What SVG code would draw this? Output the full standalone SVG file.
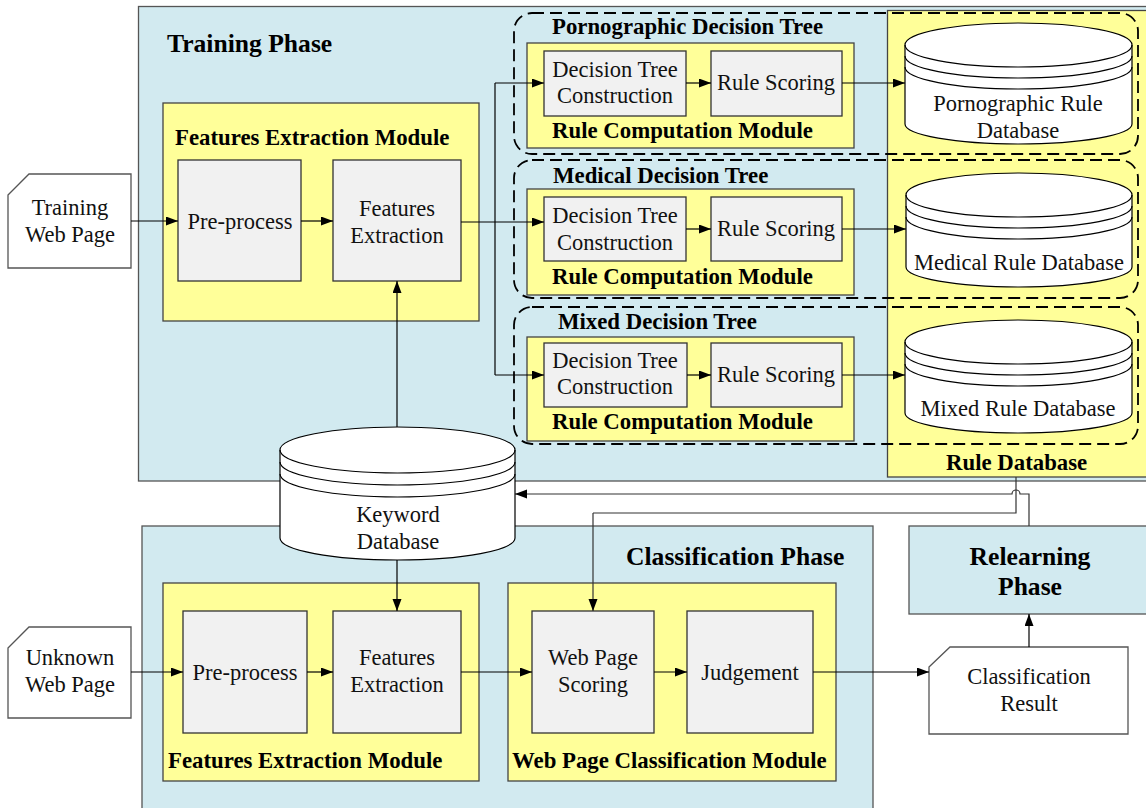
<svg xmlns="http://www.w3.org/2000/svg" width="1146" height="808" viewBox="0 0 1146 808">
<defs>
<marker id="ah" markerUnits="userSpaceOnUse" markerWidth="13" markerHeight="10" refX="12" refY="4.5" orient="auto"><path d="M0,0 L12,4.5 L0,9 z" fill="#000"/></marker>
<style>
.phase{fill:#D2EAF0;stroke:#555;stroke-width:1.3}
.mod{fill:#FFFF99;stroke:#444;stroke-width:1.3}
.box{fill:#F1F1F1;stroke:#333;stroke-width:1.3}
.card{fill:#fff;stroke:#555;stroke-width:1.3}
.dash{fill:none;stroke:#000;stroke-width:1.8;stroke-dasharray:12,6}
.db{fill:#fff;stroke:#000;stroke-width:1.2}
.ln{fill:none;stroke:#000;stroke-width:1.2}
.lnh{fill:none;stroke:#000;stroke-width:1.2;marker-end:url(#ah)}
.t{font-family:"Liberation Serif","Times New Roman",serif;font-size:22.5px;fill:#111;text-anchor:middle}
.b{font-family:"Liberation Serif","Times New Roman",serif;font-size:22.8px;font-weight:bold;fill:#000}
.p{font-family:"Liberation Serif","Times New Roman",serif;font-size:25.6px;font-weight:bold;fill:#000}
</style>
</defs>
<rect width="1146" height="808" fill="#fff"/>

<g id="training-phase">
<rect class="phase" x="138.5" y="6.5" width="1020" height="474.5"/>
<text class="p" x="167" y="52">Training Phase</text>
</g>

<g id="rule-database">
<rect class="mod" x="887.5" y="10.5" width="270" height="466.5"/>
<text class="b" x="946" y="470">Rule Database</text>
</g>

<g id="classification-phase">
<rect class="phase" x="142" y="526" width="731" height="300"/>
<text class="p" x="626" y="565">Classification Phase</text>
</g>

<g id="relearning-phase">
<rect class="phase" x="909" y="526" width="250" height="88"/>
<text class="p" x="1030" y="565" text-anchor="middle">Relearning</text>
<text class="p" x="1030" y="595" text-anchor="middle">Phase</text>
</g>

<g id="training-web-page">
<path class="card" d="M8,195 L29,174 L131,174 L131,268 L8,268 Z"/>
<text class="t" x="70" y="215">Training</text>
<text class="t" x="70" y="242">Web Page</text>
</g>

<g id="train-fem">
<rect class="mod" x="163" y="103" width="316" height="218"/>
<text class="b" x="175" y="145">Features Extraction Module</text>
</g>
<g id="train-preprocess">
<rect class="box" x="178" y="160" width="123" height="121"/>
<text class="t" x="240" y="229">Pre-process</text>
</g>
<g id="train-features">
<rect class="box" x="333" y="160" width="128" height="121"/>
<text class="t" x="397" y="216">Features</text>
<text class="t" x="397" y="243">Extraction</text>
</g>

<g id="porn-tree">
<rect class="dash" x="514" y="13" width="624" height="141" rx="18"/>
<text class="b" x="552" y="34">Pornographic Decision Tree</text>
<rect class="mod" x="527" y="43" width="327" height="105"/>
<text class="b" x="552" y="138">Rule Computation Module</text>
</g>
<g id="porn-dtc">
<rect class="box" x="544" y="51" width="142" height="65"/>
<text class="t" x="615" y="77">Decision Tree</text>
<text class="t" x="615" y="103">Construction</text>
</g>
<g id="porn-rs">
<rect class="box" x="711" y="51" width="131" height="65"/>
<text class="t" x="776" y="90">Rule Scoring</text>
</g>
<g id="porn-db">
<path class="db" d="M905,45 A113.5,22 0 0 1 1132,45 L1132,124 A113.5,20 0 0 1 905,124 Z"/>
<path class="ln" d="M905,45 A113.5,22 0 0 0 1132,45 M905,56 A113.5,22 0 0 0 1132,56 M905,67 A113.5,22 0 0 0 1132,67"/>
<text class="t" x="1018" y="111">Pornographic Rule</text>
<text class="t" x="1018" y="138">Database</text>
</g>

<g id="medical-tree">
<rect class="dash" x="514" y="160" width="624" height="138" rx="18"/>
<text class="b" x="553" y="183">Medical Decision Tree</text>
<rect class="mod" x="527" y="189" width="327" height="106"/>
<text class="b" x="552" y="284">Rule Computation Module</text>
</g>
<g id="medical-dtc">
<rect class="box" x="544" y="197" width="142" height="64"/>
<text class="t" x="615" y="223">Decision Tree</text>
<text class="t" x="615" y="250">Construction</text>
</g>
<g id="medical-rs">
<rect class="box" x="711" y="197" width="131" height="64"/>
<text class="t" x="776" y="236">Rule Scoring</text>
</g>
<g id="medical-db">
<path class="db" d="M906,195 A113,22 0 0 1 1132,195 L1132,267 A113,20 0 0 1 906,267 Z"/>
<path class="ln" d="M906,195 A113,22 0 0 0 1132,195 M906,206 A113,22 0 0 0 1132,206 M906,217 A113,22 0 0 0 1132,217"/>
<text class="t" x="1019" y="270">Medical Rule Database</text>
</g>

<g id="mixed-tree">
<rect class="dash" x="514" y="307" width="624" height="137" rx="18"/>
<text class="b" x="558" y="329">Mixed Decision Tree</text>
<rect class="mod" x="527" y="337" width="327" height="104"/>
<text class="b" x="552" y="429">Rule Computation Module</text>
</g>
<g id="mixed-dtc">
<rect class="box" x="544" y="343" width="143" height="64"/>
<text class="t" x="615" y="368">Decision Tree</text>
<text class="t" x="615" y="394">Construction</text>
</g>
<g id="mixed-rs">
<rect class="box" x="711" y="343" width="131" height="64"/>
<text class="t" x="776" y="382">Rule Scoring</text>
</g>
<g id="mixed-db">
<path class="db" d="M905,342 A113.5,22 0 0 1 1132,342 L1132,413 A113.5,20 0 0 1 905,413 Z"/>
<path class="ln" d="M905,342 A113.5,22 0 0 0 1132,342 M905,353 A113.5,22 0 0 0 1132,353 M905,364 A113.5,22 0 0 0 1132,364"/>
<text class="t" x="1018" y="416">Mixed Rule Database</text>
</g>

<g id="unknown-web-page">
<path class="card" d="M8,648 L29,627 L131,627 L131,718 L8,718 Z"/>
<text class="t" x="70" y="665">Unknown</text>
<text class="t" x="70" y="692">Web Page</text>
</g>

<g id="class-fem">
<rect class="mod" x="163" y="583" width="316" height="198"/>
<text class="b" x="168" y="768">Features Extraction Module</text>
</g>
<g id="class-preprocess">
<rect class="box" x="183" y="611" width="124" height="122"/>
<text class="t" x="245" y="680">Pre-process</text>
</g>
<g id="class-features">
<rect class="box" x="333" y="611" width="128" height="122"/>
<text class="t" x="397" y="665">Features</text>
<text class="t" x="397" y="692">Extraction</text>
</g>

<g id="wpcm">
<rect class="mod" x="508" y="583" width="328" height="198"/>
<text class="b" x="512" y="768">Web Page Classification Module</text>
</g>
<g id="web-page-scoring">
<rect class="box" x="532" y="611" width="122" height="122"/>
<text class="t" x="593" y="665">Web Page</text>
<text class="t" x="593" y="692">Scoring</text>
</g>
<g id="judgement">
<rect class="box" x="687" y="611" width="126" height="122"/>
<text class="t" x="750" y="680">Judgement</text>
</g>

<g id="classification-result">
<path class="card" d="M929,667 L950,647 L1128,647 L1128,734 L929,734 Z"/>
<text class="t" x="1029" y="684">Classification</text>
<text class="t" x="1029" y="711">Result</text>
</g>

<g id="connectors">
<path class="lnh" d="M131,221 H178"/>
<path class="lnh" d="M301,221 H333"/>
<path class="lnh" d="M461,222 H544"/>
<path class="ln" d="M495,83 V375"/>
<path class="lnh" d="M495,83 H544"/>
<path class="lnh" d="M495,375 H544"/>
<path class="lnh" d="M686,83 H711"/>
<path class="lnh" d="M842,83 H905"/>
<path class="lnh" d="M686,229 H711"/>
<path class="lnh" d="M842,229 H906"/>
<path class="lnh" d="M687,375 H711"/>
<path class="lnh" d="M842,375 H905"/>
<path class="lnh" d="M397,427 V281"/>
<path class="lnh" d="M397,560 V611"/>
<path class="lnh" d="M131,672 H183"/>
<path class="lnh" d="M307,672 H333"/>
<path class="lnh" d="M461,672 H532"/>
<path class="lnh" d="M654,672 H687"/>
<path class="lnh" d="M813,672 H929"/>
<path class="lnh" d="M1029,647 V614"/>
<path class="ln" style="stroke:#333" d="M1016,477 V513 H593"/>
<path class="lnh" style="stroke:#333" d="M593,513 V611"/>
<path class="lnh" style="stroke:#333" d="M1029,526 V494 H1020 A4,4 0 0 0 1012,494 H515"/>
</g>

<g id="keyword-db">
<path class="db" d="M280,450 A117.5,23 0 0 1 515,450 L515,538 A117.5,22 0 0 1 280,538 Z"/>
<path class="ln" d="M280,450 A117.5,23 0 0 0 515,450 M280,462 A117.5,23 0 0 0 515,462 M280,474 A117.5,23 0 0 0 515,474"/>
<text class="t" x="398" y="522">Keyword</text>
<text class="t" x="398" y="549">Database</text>
</g>
</svg>
